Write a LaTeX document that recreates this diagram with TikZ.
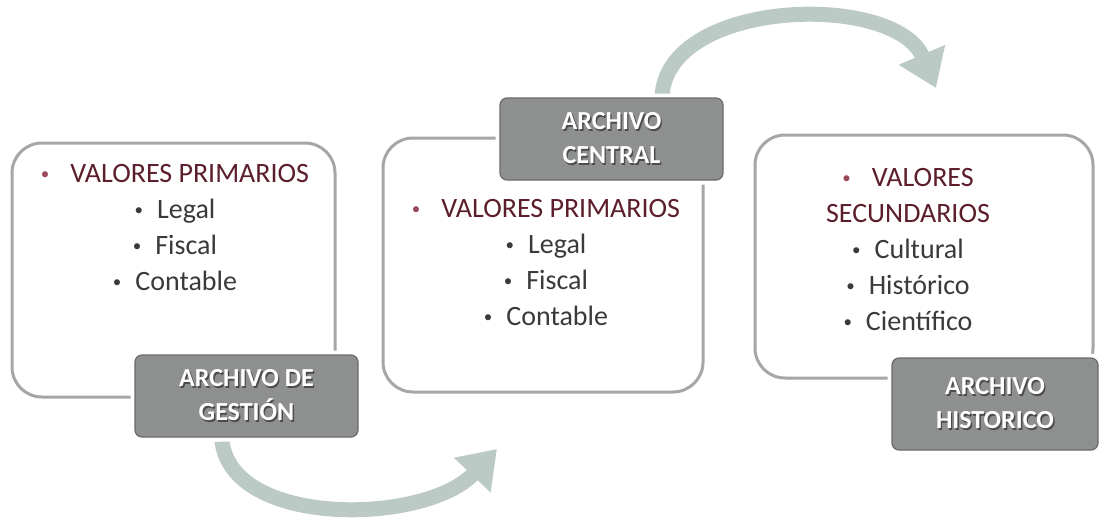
\documentclass[tikz,border=0pt]{standalone}
\usepackage{fontspec}
\setmainfont{Carlito}
\usetikzlibrary{arrows.meta}
\definecolor{boxline}{HTML}{A6A6A6}
\definecolor{tagfill}{HTML}{8E908F}
\definecolor{tagline}{HTML}{6A6A6A}
\definecolor{headred}{HTML}{5C1E2A}
\definecolor{bulred}{HTML}{9A4A5A}
\definecolor{itemgray}{HTML}{3A3A3A}
\definecolor{arrowcol}{HTML}{BCCAC6}
\newcommand\shd[1]{\leavevmode\rlap{\kern1.4pt\raisebox{-1.4pt}{\textcolor{black!70}{#1}}}#1}
\newcommand\smallbul{\raisebox{2.5pt}{\fontsize{17}{17}\selectfont•}}
\newcommand\hb{\textcolor{bulred}{\smallbul}\hspace{0.75em}}
\newcommand\ib{\smallbul\hspace{0.5em}}
\begin{document}
\begin{tikzpicture}[x=1pt,y=-1pt,
  valbox/.style={draw=boxline, line width=3pt, rounded corners=30pt, fill=white, inner sep=0pt},
  tagbox/.style={draw=tagline, line width=1.2pt, fill=tagfill, rounded corners=7pt, inner sep=0pt,
    text=white, font=\bfseries\fontsize{26}{34}\selectfont, align=center,
    preaction={draw=white, line width=9pt}},
  valtext/.style={anchor=north, inner sep=0pt, align=center, text=itemgray,
    font=\fontsize{28}{36}\selectfont},
  flow/.style={draw=arrowcol, line width=15pt, -{Triangle[width=48pt,length=36pt]}}]
\useasboundingbox[fill=white] (0,0) rectangle (1101,525);

% arrows
\coordinate (a1s) at (222,441);
\coordinate (a1e) at (497,449);
\coordinate (a2s) at (662,96);
\coordinate (a2e) at (936,88);
\draw[flow] (a1s) .. controls (232,528) and (425,525) .. (a1e);
\draw[flow] (a2s) .. controls (668,-2) and (895,-8) .. (a2e);

% value boxes
\node[valbox, minimum width=323pt, minimum height=254pt] (b1) at (173.5,270) {};
\node[valbox, minimum width=320pt, minimum height=254pt] (b2) at (543,265) {};
\node[valbox, minimum width=338pt, minimum height=243pt] (b3) at (924,256.5) {};

% texts
\node[valtext] (v1) at (175,164) {\hb\textcolor{headred}{VALORES PRIMARIOS}\\ \ib Legal\\ \ib Fiscal\\ \ib Contable};
\node[valtext] (v2) at (546,199) {\hb\textcolor{headred}{VALORES PRIMARIOS}\\ \ib Legal\\ \ib Fiscal\\ \ib Contable};
\node[valtext] (v3) at (908,168) {\hb\textcolor{headred}{VALORES}\\ \textcolor{headred}{SECUNDARIOS}\\ \ib Cultural\\ \ib Histórico\\ \ib Científico};

% tags
\node[tagbox, minimum width=223pt, minimum height=82pt] (t1) at (246.5,396) {\shd{ARCHIVO DE}\\ \shd{GESTIÓN}};
\node[tagbox, minimum width=223pt, minimum height=82pt] (t2) at (611.5,139) {\shd{ARCHIVO}\\ \shd{CENTRAL}};
\node[tagbox, minimum width=206pt, minimum height=92pt] (t3) at (995,404) {\shd{ARCHIVO}\\ \shd{HISTORICO}};
\end{tikzpicture}
\end{document}
